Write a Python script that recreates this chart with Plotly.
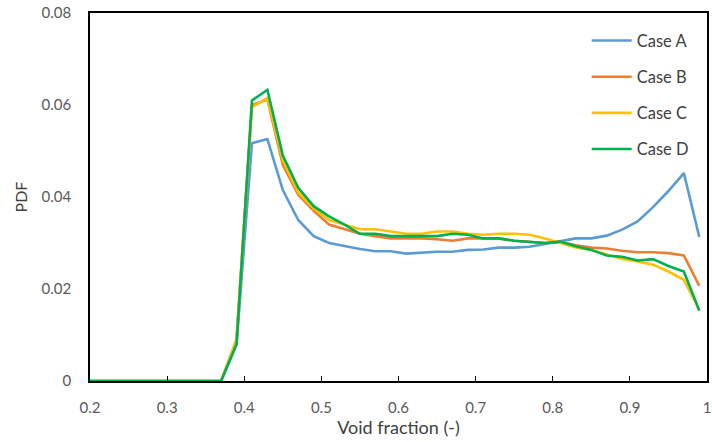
import plotly.graph_objects as go

void_fraction = [0.19, 0.21, 0.23, 0.25, 0.27, 0.29, 0.31, 0.33, 0.35, 0.37,
                 0.39, 0.41, 0.43, 0.45, 0.47, 0.49, 0.51, 0.53, 0.55, 0.57,
                 0.59, 0.61, 0.63, 0.65, 0.67, 0.69, 0.71, 0.73, 0.75, 0.77,
                 0.79, 0.81, 0.83, 0.85, 0.87, 0.89, 0.91, 0.93, 0.95, 0.97, 0.99]

case_a = [0, 0, 0, 0, 0, 0, 0, 0, 0, 0,
          0.008, 0.0517, 0.0526, 0.0415, 0.035, 0.0315, 0.030, 0.0293, 0.0287, 0.0282,
          0.0282, 0.0277, 0.0279, 0.0281, 0.0281, 0.0285, 0.0286, 0.029, 0.029, 0.0292,
          0.0298, 0.0304, 0.031, 0.031, 0.0316, 0.0329, 0.0347, 0.0378, 0.0413, 0.0452, 0.0313]

case_b = [0, 0, 0, 0, 0, 0, 0, 0, 0, 0,
          0.009, 0.060, 0.0612, 0.047, 0.0405, 0.037, 0.034, 0.033, 0.032, 0.0315,
          0.031, 0.031, 0.031, 0.0308, 0.0305, 0.031, 0.031, 0.031, 0.0305, 0.0302,
          0.030, 0.0302, 0.0295, 0.029, 0.0288, 0.0283, 0.028, 0.028, 0.0278, 0.0273, 0.0207]

case_c = [0, 0, 0, 0, 0, 0, 0, 0, 0, 0,
          0.009, 0.0595, 0.0615, 0.048, 0.041, 0.0375, 0.035, 0.034, 0.033, 0.033,
          0.0325, 0.032, 0.032, 0.0325, 0.0325, 0.032, 0.0318, 0.032, 0.032, 0.0318,
          0.031, 0.030, 0.029, 0.0285, 0.0275, 0.0265, 0.026, 0.0253, 0.0238, 0.022, 0.0155]

case_d = [0, 0, 0, 0, 0, 0, 0, 0, 0, 0,
          0.008, 0.061, 0.0633, 0.049, 0.042, 0.038, 0.0358, 0.034, 0.032, 0.032,
          0.0315, 0.0315, 0.0315, 0.0315, 0.032, 0.0318, 0.031, 0.031, 0.0305, 0.0302,
          0.030, 0.0303, 0.0293, 0.0285, 0.0273, 0.027, 0.0262, 0.0265, 0.025, 0.0238, 0.0153]

series = [("Case A", case_a, "#5B9BD5"),
          ("Case B", case_b, "#ED7D31"),
          ("Case C", case_c, "#FFC000"),
          ("Case D", case_d, "#00B050")]

x_ticks = [0.2, 0.3, 0.4, 0.5, 0.6, 0.7, 0.8, 0.9, 1.0]
x_tick_labels = ["0.2", "0.3", "0.4", "0.5", "0.6", "0.7", "0.8", "0.9", "1"]
y_ticks = [0, 0.02, 0.04, 0.06, 0.08]
y_tick_labels = ["0", "0.02", "0.04", "0.06", "0.08"]

FONT = "Lato, 'Open Sans', sans-serif"

fig = go.Figure()
for i, (name, vals, color) in enumerate(series):
    fig.add_trace(go.Scatter(
        x=void_fraction, y=vals, name=name, mode="lines",
        line=dict(color=color, width=2.6), legendgroup=f"g{i}"))

fig.update_layout(
    width=712, height=442,
    margin=dict(l=90, r=1, t=13, b=61),
    paper_bgcolor="white", plot_bgcolor="white",
    font=dict(family=FONT, size=15, color="#595959"),
    showlegend=True,
    legend=dict(x=0.805, y=0.972, xanchor="left", yanchor="top",
                bgcolor="rgba(0,0,0,0)", font=dict(size=16.5, color="#404040"),
                traceorder="grouped", tracegroupgap=11.7, itemwidth=40),
    xaxis=dict(range=[0.2, 1.0], tickvals=x_ticks, ticktext=x_tick_labels,
               showgrid=False, zeroline=False, showline=True, linecolor="black",
               linewidth=1.5, mirror=True, ticks="inside", ticklen=5,
               tickcolor="black", tickwidth=1.3, ticklabelstandoff=12,
               ticklabeloverflow="allow",
               title=dict(text="Void fraction (-)", font=dict(size=18, color="#404040"),
                          standoff=3)),
    yaxis=dict(range=[0, 0.08], tickvals=y_ticks, ticktext=y_tick_labels,
               showgrid=False, zeroline=False, showline=True, linecolor="black",
               linewidth=1.5, mirror=True, ticks="", ticklabelstandoff=14,
               title=dict(text="PDF", font=dict(size=16, color="#404040"), standoff=10)),
)

fig.write_html("out.html")
